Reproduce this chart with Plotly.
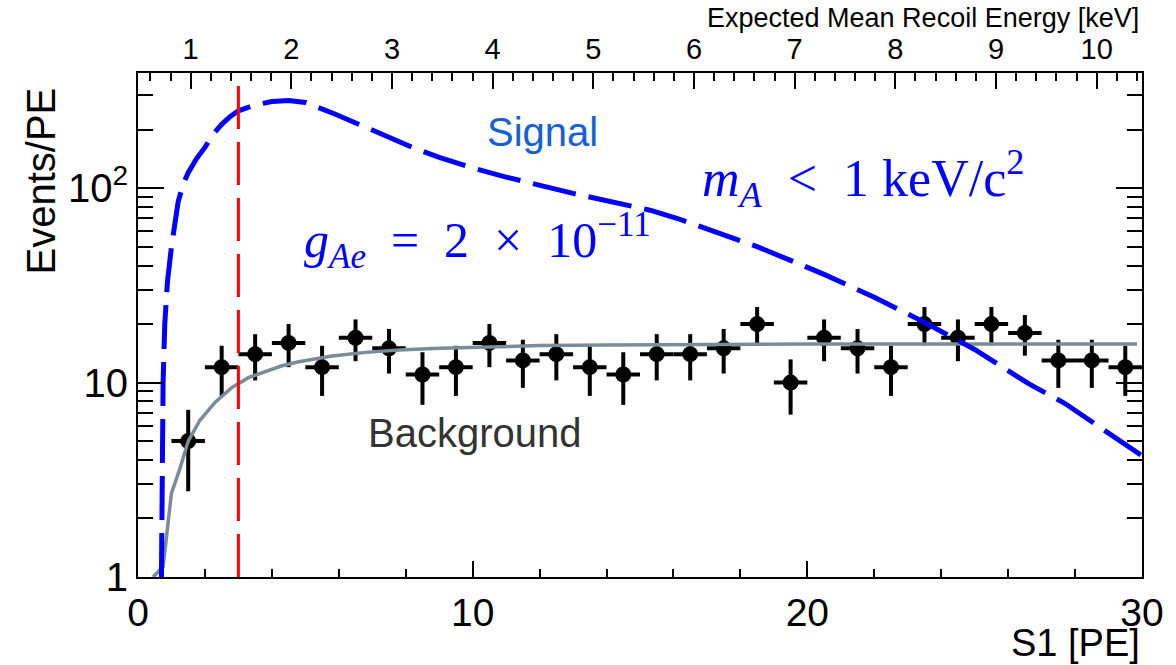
import plotly.graph_objects as go
import math

# ---- data ----
bin_centers = [1.5, 2.5, 3.5, 4.5, 5.5, 6.5, 7.5, 8.5, 9.5, 10.5, 11.5, 12.5, 13.5, 14.5,
               15.5, 16.5, 17.5, 18.5, 19.5, 20.5, 21.5, 22.5, 23.5, 24.5, 25.5, 26.5,
               27.5, 28.5, 29.5]
counts = [5, 12, 14, 16, 12, 17, 15, 11, 12, 16, 13, 14, 12, 11,
          14, 14, 15, 20, 10, 17, 15, 12, 20, 17, 20, 18, 13, 13, 12]
count_errors = [2.24, 3.46, 3.74, 4.0, 3.46, 4.12, 3.87, 3.32, 3.46, 4.0, 3.61, 3.74, 3.46, 3.32,
                3.74, 3.74, 3.87, 4.47, 3.16, 4.12, 3.87, 3.46, 4.47, 4.12, 4.47, 4.24,
                3.61, 3.61, 3.46]
bin_half_width = 0.5

bkg_s1 = [0.45, 0.75, 1.0, 1.25, 1.5, 1.85, 2.3, 2.8, 3.3, 3.8, 4.3, 4.8, 5.8, 6.8,
          7.8, 9.0, 10.5, 12.0, 14.0, 17.0, 20.0, 25.0, 29.85]
bkg_rate = [1.0, 1.13, 2.7, 3.6, 5.0, 6.4, 7.9, 9.4, 10.6, 11.4, 12.2, 12.8, 13.7, 14.3,
            14.7, 15.0, 15.3, 15.5, 15.6, 15.75, 15.8, 15.8, 15.8]

sig_s1 = [0.70, 0.72, 0.75, 0.80, 0.88, 1.0, 1.1, 1.2, 1.35, 1.5, 1.75, 2.0, 2.25, 2.5, 2.75,
          3.0, 3.5, 4.0, 4.5, 5.0, 5.9, 6.6, 7.4, 8.2, 9.0, 10.0, 11.0, 12.2, 13.0, 13.7,
          14.5, 15.3, 16.1, 17.0, 18.5, 19.5, 20.5, 22.0, 23.5, 25.0, 26.6, 27.7, 29.0, 30.0]
sig_rate = [1.0, 3.0, 10.0, 20.0, 33.0, 50.0, 68.0, 85.0, 105.0, 120.0, 142.0, 162.0, 190.0,
            213.0, 233.0, 250.0, 268.0, 279.0, 282.0, 276.0, 240.0, 212.0, 186.0, 162.0,
            144.0, 127.0, 114.0, 101.0, 94.0, 88.5, 83.0, 77.0, 70.0, 62.0, 50.0, 42.5,
            36.0, 27.5, 20.4, 14.8, 9.9, 7.8, 5.5, 4.2]

threshold_s1 = 3.0
kev_range = [0.477, 10.45]
s1_range = [0, 30]
y_max = 391
y_ticks = [1, 10, 100]
y_ticktext = ["1", "10", "10<sup>2</sup>"]

FONT = "Liberation Sans, Arial, Helvetica, sans-serif"
SERIF = "Liberation Serif, Times New Roman, serif"

fig = go.Figure()

fig.add_trace(go.Scatter(
    x=bin_centers, y=counts, mode="markers",
    marker=dict(color="black", size=16),
    error_x=dict(type="constant", value=bin_half_width, thickness=4, width=0, color="black"),
    error_y=dict(type="data", array=count_errors, thickness=4, width=0, color="black"),
    hoverinfo="skip", showlegend=False))

fig.add_trace(go.Scatter(
    x=bkg_s1, y=bkg_rate, mode="lines",
    line=dict(color="#7a8c96", width=3.5),
    hoverinfo="skip", showlegend=False))

fig.add_trace(go.Scatter(
    x=sig_s1, y=sig_rate, mode="lines",
    line=dict(color="#0000ff", width=5, dash="44px,13px"),
    hoverinfo="skip", showlegend=False))

# invisible trace to anchor the top (keV) axis
fig.add_trace(go.Scatter(
    x=kev_range, y=[y_ticks[0], y_ticks[0]], xaxis="x2", mode="markers",
    marker=dict(opacity=0), hoverinfo="skip", showlegend=False))

fig.add_shape(type="line", xref="x", yref="paper", x0=threshold_s1, x1=threshold_s1,
              y0=0, y1=1, line=dict(color="#ff0000", width=3, dash="43px,13px"))

axis_common = dict(showgrid=False, zeroline=False, showline=True, linewidth=2,
                   linecolor="black", ticks="inside", tickwidth=2, tickcolor="black")

fig.update_layout(
    width=1176, height=665,
    margin=dict(l=138, r=27, t=73, b=88),
    paper_bgcolor="white", plot_bgcolor="white",
    showlegend=False,
    font=dict(family=FONT, color="black"),
    xaxis=dict(range=s1_range, tick0=0, dtick=10, ticklen=16, mirror=False,
               tickfont=dict(size=39, family=FONT),
               minor=dict(ticks="inside", ticklen=8, dtick=2, tick0=0, tickwidth=2,
                          tickcolor="black", showgrid=False),
               **axis_common),
    xaxis2=dict(range=kev_range, overlaying="x", side="top", anchor="y",
                tick0=0, dtick=1, ticklen=16,
                tickfont=dict(size=29, family=FONT),
                minor=dict(ticks="inside", ticklen=8, dtick=0.2, tick0=0, tickwidth=2,
                           tickcolor="black", showgrid=False),
                **axis_common),
    yaxis=dict(type="log", range=[0, math.log10(y_max)], tickvals=y_ticks, ticktext=y_ticktext,
               ticklen=26, mirror="ticks",
               tickfont=dict(size=40, family=FONT),
               minor=dict(ticks="inside", ticklen=15, dtick="D1", tickwidth=2,
                          tickcolor="black", showgrid=False),
               **axis_common),
)


def px2paper(px, py):
    return (px - 138) / 1011.0, (577 - py) / 504.3


ann = []
x, y = px2paper(545, 132)
ann.append(dict(text="Signal", x=x, y=y, xanchor="center", yanchor="middle",
                font=dict(size=40, color="#1560d8", family=FONT)))
x, y = px2paper(477, 433)
ann.append(dict(text="Background", x=x, y=y, xanchor="center", yanchor="middle",
                font=dict(size=40, color="#333333", family=FONT)))
x, y = px2paper(303, 240)
ann.append(dict(text="<i>g</i><sub><i>Ae</i></sub>&nbsp; = &nbsp;2&nbsp; × &nbsp;10<sup>−11</sup>",
                x=x, y=y, xanchor="left", yanchor="middle",
                font=dict(size=50, color="#0000ff", family=SERIF)))
x, y = px2paper(704, 178)
ann.append(dict(text="<i>m</i><sub><i>A</i></sub>&nbsp; &lt; &nbsp;1&nbsp;keV/c<sup>2</sup>",
                x=x, y=y, xanchor="left", yanchor="middle",
                font=dict(size=52, color="#0000ff", family=SERIF)))
x, y = px2paper(1149, 643)
ann.append(dict(text="S1 [PE]", x=x, y=y, xanchor="right", yanchor="middle",
                font=dict(size=38, color="black", family=FONT)))
x, y = px2paper(1148, 18)
ann.append(dict(text="Expected Mean Recoil Energy [keV]", x=x, y=y, xanchor="right",
                yanchor="middle", font=dict(size=27, color="black", family=FONT)))
x, y = px2paper(40, 85)
ann.append(dict(text="Events/PE", x=x, y=y, xanchor="center", yanchor="top", textangle=-90,
                font=dict(size=40, color="black", family=FONT)))

for a in ann:
    a.update(xref="paper", yref="paper", showarrow=False)
fig.update_layout(annotations=ann)

fig.write_html("out.html")
